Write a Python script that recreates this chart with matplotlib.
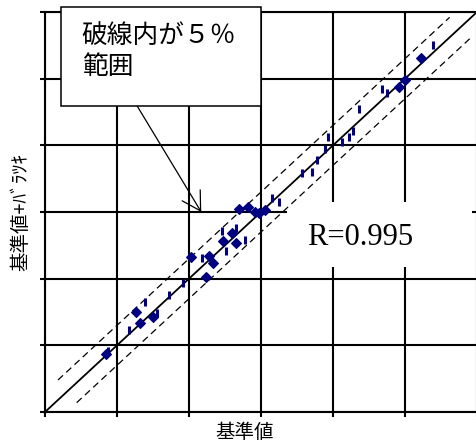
import matplotlib
matplotlib.use("Agg")
import matplotlib.pyplot as plt
from matplotlib.patches import Rectangle
import numpy as np

plt.rcParams['font.family'] = ['Noto Sans CJK JP', 'DejaVu Sans']

# Reference value vs. reference value + variation (grid units)
diamond_x = [0.85, 1.26, 1.32, 1.50, 2.03, 2.24, 2.28, 2.33, 2.47, 2.60,
             2.65, 2.69, 2.82, 2.92, 2.97, 3.06, 4.92, 5.00, 5.22]
diamond_y = [0.87, 1.50, 1.33, 1.42, 2.33, 2.02, 2.34, 2.24, 2.56, 2.68,
             2.53, 3.04, 3.07, 3.00, 2.98, 3.03, 4.87, 4.98, 5.31]

bar_x = [0.88, 1.17, 1.39, 1.56, 1.72, 1.92, 2.18, 2.46, 2.51, 2.65, 2.78,
         3.15, 3.25, 3.57, 3.71, 3.78, 3.89, 3.93, 4.13, 4.22, 4.28, 4.36,
         4.68, 4.75, 5.39]
bar_y = [0.92, 1.23, 1.65, 1.48, 1.76, 1.94, 2.31, 2.71, 2.41, 2.76, 2.58,
         3.21, 3.15, 3.58, 3.60, 3.78, 3.94, 4.12, 4.05, 4.12, 4.21, 4.54,
         4.84, 4.78, 5.50]

# Identity line and the +/-5 % band (5 % of full scale)
full_scale = 6.0
band = 0.05 * full_scale
upper_x = [0.18, 5.62]
lower_x = [0.44, 5.90]
r_value = 0.995

navy = '#000080'

fig = plt.figure(figsize=(4.76, 4.45), dpi=100)
ax = fig.add_axes([45 / 476, 33 / 445, 432 / 476, 400 / 445])
ax.set_xlim(0, full_scale)
ax.set_ylim(0, full_scale)
ax.set_axisbelow(True)

ax.set_xticks(np.arange(0, 7))
ax.set_yticks(np.arange(0, 7))
ax.set_xticklabels([])
ax.set_yticklabels([])
ax.grid(True, color='black', linewidth=1.5)
ax.tick_params(direction='out', length=3.6, width=1.5, color='black')
for side in ('left', 'bottom', 'top'):
    ax.spines[side].set_linewidth(1.5)
    ax.spines[side].set_color('black')
ax.spines['right'].set_visible(False)

# White panel behind the correlation label
ax.add_patch(Rectangle((3.36, 2.17), 2.57, 0.98, facecolor='white',
                       edgecolor='none', zorder=1))
ax.text(3.64, 2.625, f'R={r_value}', family=['Liberation Serif', 'DejaVu Serif'],
        fontsize=22, ha='left', va='center', zorder=1.2)

ax.plot([0, full_scale], [0, full_scale], color='black', linewidth=1.3, zorder=2)
ux = np.array(upper_x)
lx = np.array(lower_x)
ax.plot(ux, ux + band, color='black', linewidth=0.9, dashes=(5.5, 3.5), zorder=2)
ax.plot(lx, lx - band, color='black', linewidth=0.9, dashes=(5.5, 3.5), zorder=2)

ax.plot(bar_x, bar_y, linestyle='none', marker='|', markersize=6,
        markeredgewidth=2.2, color=navy, zorder=3)
ax.plot(diamond_x, diamond_y, linestyle='none', marker='D', markersize=4.9,
        markeredgewidth=0.8, color=navy, zorder=3)

# Callout box with arrow
ax.add_patch(Rectangle((0.22, 4.59), 2.78, 1.485, facecolor='white',
                       edgecolor='black', linewidth=1.1, clip_on=False, zorder=5))
ax.text(0.51, 5.41, '破線内が５％\n範囲', fontsize=18.5, ha='left', va='center',
        linespacing=1.25, clip_on=False, zorder=6)
ax.annotate('', xy=(2.17, 3.0), xytext=(1.28, 4.59),
            arrowprops=dict(arrowstyle='->,head_length=1.31,head_width=0.76',
                            mutation_scale=10, color='black', linewidth=0.9,
                            shrinkA=0, shrinkB=0),
            zorder=4)

ax.set_xlabel('基準値', fontsize=14)
ax.xaxis.label.set_va('center')
ax.xaxis.set_label_coords((245 - 45) / 432, -21 / 400)
ax.set_ylabel('基準値+ﾊﾞﾗﾂｷ', fontsize=14)
ax.yaxis.label.set_va('center')
ax.yaxis.set_label_coords(-24 / 432, 0.5)

fig.savefig('out.png', dpi=100)
